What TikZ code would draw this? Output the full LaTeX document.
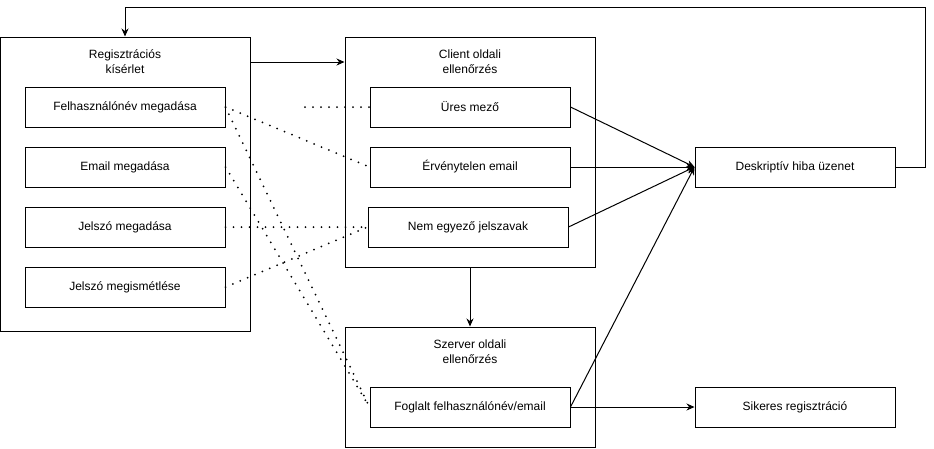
\documentclass[tikz,border=0pt]{standalone}
\usepackage{fontspec}
\setmainfont{Liberation Sans}
\usetikzlibrary{positioning, arrows.meta}

\tikzset{
    box/.style={draw, line width=1pt, minimum width=200pt, minimum height=40pt, inner sep=0pt, font=\fontsize{12}{14}\selectfont},
    frame/.style={draw, line width=1pt, inner sep=0pt},
    caption/.style={align=center, font=\fontsize{12}{15}\selectfont},
    arr/.style={line width=1pt, -{Stealth[length=8pt, width=7pt]}},
    dots/.style={line width=2pt, dash pattern=on 0pt off 8pt, line cap=round}
}

\begin{document}
\begin{tikzpicture}[x=1pt, y=-1pt]
        \useasboundingbox (0,0) rectangle (934,448);
        % containers
        \node[frame, minimum width=250pt, minimum height=294pt] (reg) at (125,184) {};
        \node[frame, minimum width=250pt, minimum height=230pt] (client) at (470,152) {};
        \node[frame, minimum width=250pt, minimum height=120pt] (server) at (470,387) {};
        \node[caption] (regLabel) at (125,62) {Regisztrációs\\kísérlet};
        \node[caption] (clientLabel) at (470,62) {Client oldali\\ellenőrzés};
        \node[caption] (serverLabel) at (470,352) {Szerver oldali\\ellenőrzés};
        % input steps
        \node[box] (user) at (125,107) {Felhasználónév megadása};
        \node[box] (email) at (125,167) {Email megadása};
        \node[box] (pass) at (125,227) {Jelszó megadása};
        \node[box] (passAgain) at (125,287) {Jelszó megismétlése};
        % checks
        \node[box] (empty) at (470,107) {Üres mező};
        \node[box] (badEmail) at (470,167) {Érvénytelen email};
        \node[box] (mismatch) at (468,227) {Nem egyező jelszavak};
        \node[box] (taken) at (470,407) {Foglalt felhasználónév/email};
        % results
        \node[box] (error) at (795,167) {Deskriptív hiba üzenet};
        \node[box] (success) at (795,407) {Sikeres regisztráció};
        \coordinate (emptyStub) at (305,107);
        \coordinate (loopTop) at (925,7);

        \draw[dots] (emptyStub) -- (empty.west);
        \draw[dots] (user.east) -- (badEmail.west);
        \draw[dots] (user.east) -- (taken.west);
        \draw[dots] (email.east) -- (taken.west);
        \draw[dots] (pass.east) -- (mismatch.west);
        \draw[dots] (passAgain.east) -- (mismatch.west);

        \draw[arr] (regLabel -| reg.east) -- (regLabel -| client.west);
        \draw[arr] (client.south) -- (server.north);
        \draw[arr] (empty.east) -- (error.west);
        \draw[arr] (badEmail.east) -- (error.west);
        \draw[arr] (mismatch.east) -- (error.west);
        \draw[arr] (taken.east) -- (error.west);
        \draw[arr] (taken.east) -- (success.west);
        \draw[arr] (error.east) -| (loopTop) -| (reg.north);
    \end{tikzpicture}
\end{document}
